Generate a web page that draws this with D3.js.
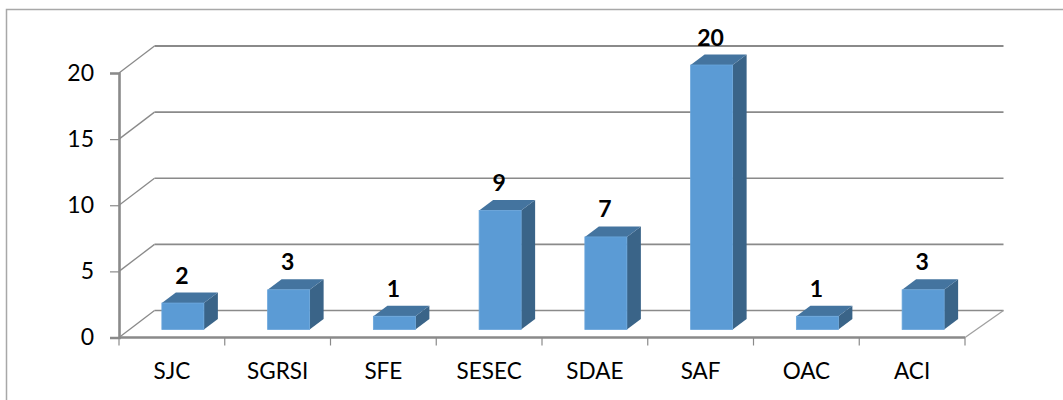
<!DOCTYPE html>
<html><head><meta charset="utf-8">
<script src="https://d3js.org/d3.v7.min.js"></script>
<style>html,body{margin:0;padding:0;background:#fff}svg{display:block}
text{font-family:Lato,Carlito,"Open Sans",sans-serif;fill:#000}</style></head>
<body><svg id="c" width="1063" height="400"></svg>
<script>
const categories=["SJC","SGRSI","SFE","SESEC","SDAE","SAF","OAC","ACI"];
const values=[2,3,1,9,7,20,1,3];
const yTicks=[0,5,10,15,20];

const svg=d3.select("#c");
const L=119,R=965,T=73,B=337.5,dx=35.5,dy=-27;
const barDx=14,barDy=-10.5,floorGap=8,barOffset=11;
const x=d3.scaleBand().domain(categories).range([L,R]);
const y=d3.scaleLinear().domain([0,20]).range([B,T]);
const grid="#8a8a8a";

svg.append("path").attr("d","M6.5,400V9.5H1063").attr("fill","none").attr("stroke","#a8a8a8").attr("stroke-width",1.5);

// back wall gridlines and side wall
const g=svg.append("g");
yTicks.forEach(v=>{
  const w=v===20?2:1.6;
  g.append("line").attr("x1",L+dx).attr("x2",R+dx+3).attr("y1",y(v)+dy).attr("y2",y(v)+dy).attr("stroke",grid).attr("stroke-width",w);
  g.append("line").attr("x1",L).attr("x2",L+dx).attr("y1",y(v)).attr("y2",y(v)+dy).attr("stroke",grid).attr("stroke-width",1.3);
});
g.append("line").attr("x1",R).attr("x2",R+dx+3).attr("y1",B).attr("y2",B+dy).attr("stroke","#a0a0a0").attr("stroke-width",1.3);

// axes
const ax=svg.append("g").attr("transform",`translate(${L},0)`)
  .call(d3.axisLeft(y).tickValues(yTicks).tickSize(9).tickPadding(16));
ax.selectAll("path").attr("stroke",grid).attr("stroke-width",2.6);
ax.selectAll("line").attr("stroke",grid).attr("stroke-width",1.2);
ax.selectAll("text").attr("font-size",23).style("font-family","Lato,Carlito,sans-serif");

const bx=svg.append("g").attr("transform",`translate(0,${B})`)
  .call(d3.axisBottom(x).tickSize(0).tickPadding(26));
bx.select("path").attr("stroke",grid).attr("stroke-width",2.6).attr("d",`M${L},0H${R}`);
bx.selectAll("text").attr("font-size",22.5).style("font-family","Lato,Carlito,sans-serif");
svg.append("g").selectAll("line").data(d3.range(categories.length+1)).join("line")
  .attr("x1",i=>L+i*x.step()).attr("x2",i=>L+i*x.step()).attr("y1",B).attr("y2",B+8)
  .attr("stroke",grid).attr("stroke-width",1.2);

// 3D bars
const bw=42;
const bars=svg.append("g").selectAll("g").data(categories.map((c,i)=>({c,v:values[i]}))).join("g");
const bl=d=>x(d.c)+x.step()/2+barOffset-bw/2;
const bb=()=>y(0)-floorGap;
const bt=d=>y(d.v)-floorGap;
bars.append("path").attr("fill","#3a6488")
  .attr("d",d=>`M${bl(d)+bw},${bt(d)}l${barDx},${barDy}V${bb()+barDy}l${-barDx},${-barDy}Z`);
bars.append("path").attr("fill","#44749f")
  .attr("d",d=>`M${bl(d)},${bt(d)}l${barDx},${barDy}h${bw}l${-barDx},${-barDy}Z`);
bars.append("rect").attr("fill","#5b9bd5").attr("stroke","#69a5db").attr("stroke-width",.8)
  .attr("x",bl).attr("y",bt).attr("width",bw).attr("height",d=>bb()-bt(d));
bars.append("text").attr("text-anchor","middle").attr("font-weight",700).attr("font-size",23)
  .attr("x",d=>bl(d)+bw/2-1).attr("y",d=>bt(d)+barDy-9).text(d=>d.v);
</script></body></html>
